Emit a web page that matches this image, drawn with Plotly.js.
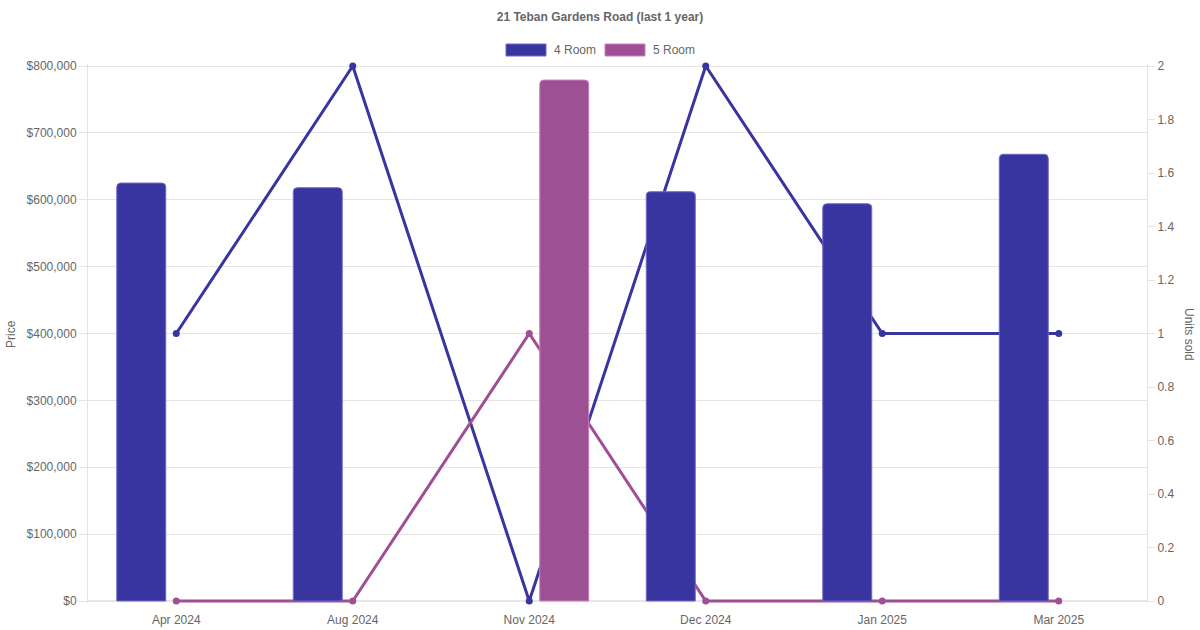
<!DOCTYPE html>
<html>
<head>
<meta charset="utf-8">
<script src="https://cdn.plot.ly/plotly-3.0.1.min.js"></script>
<style>
  html, body { margin: 0; padding: 0; background: #fff; }
  #chart { width: 1200px; height: 630px; }
</style>
</head>
<body>
<div id="chart"></div>
<script>
const months = ['Apr 2024', 'Aug 2024', 'Nov 2024', 'Dec 2024', 'Jan 2025', 'Mar 2025'];
const price4Room = [625000, 618000, null, 612000, 594000, 668000];
const price5Room = [null, null, 779000, null, null, null];
const units4Room = [1, 2, 0, 2, 1, 1];
const units5Room = [0, 0, 1, 0, 0, 0];
const priceTicks = [0, 100000, 200000, 300000, 400000, 500000, 600000, 700000, 800000];
const unitTicks = [0, 0.2, 0.4, 0.6, 0.8, 1, 1.2, 1.4, 1.6, 1.8, 2];

const blue = 'rgb(57,53,160)';
const purple = 'rgb(158,80,148)';
const FONT = 'Liberation Sans, Arial, Helvetica, sans-serif';
const grey = '#666';

// 2px of breathing room so line strokes at 0 and at the top are not clipped
const PADPX = 2, PLOTPX = 535;
const unitPad = 2 / PLOTPX * PADPX;
const pricePad = 800000 / PLOTPX * PADPX;

const traces = [
  {
    type: 'scatter', mode: 'lines+markers', name: '4 Room units',
    x: months, y: units4Room, yaxis: 'y', showlegend: false, cliponaxis: false,
    line: {color: blue, width: 3}, marker: {color: blue, size: 7},
    hoverinfo: 'skip'
  },
  {
    type: 'scatter', mode: 'lines+markers', name: '5 Room units',
    x: months, y: units5Room, yaxis: 'y', showlegend: false, cliponaxis: false,
    line: {color: purple, width: 3}, marker: {color: purple, size: 7},
    hoverinfo: 'skip'
  },
  {
    type: 'bar', name: '4 Room', x: months, y: price4Room, yaxis: 'y2',
    marker: {color: blue, line: {color: 'rgb(110,106,200)', width: 1}, cornerradius: 4},
    showlegend: false
  },
  {
    type: 'bar', name: '5 Room', x: months, y: price5Room, yaxis: 'y2',
    marker: {color: purple, line: {color: 'rgb(200,130,190)', width: 1}, cornerradius: 4},
    showlegend: false
  }
];

const W = 1059;
const H = PLOTPX + 2 * PADPX;
const px = x => (x - 88) / W;
const py = y => (630 - 27 - y) / H;

const layout = {
  width: 1200, height: 630,
  margin: {l: 88, r: 53, t: 64, b: 27, pad: 0},
  paper_bgcolor: '#fff', plot_bgcolor: '#fff',
  font: {family: FONT, size: 12, color: grey},
  showlegend: false,
  barmode: 'group',
  bargap: 0.207,
  bargroupgap: 0.3,
  title: {
    text: '<b>21 Teban Gardens Road (last 1 year)</b>',
    font: {family: FONT, size: 12, color: grey},
    x: 0.5, xanchor: 'center', y: 1 - 17/630, yanchor: 'middle'
  },
  xaxis: {
    type: 'category', range: [-0.5, 5.5],
    showgrid: false, zeroline: false, layer: 'below traces',
    showline: false,
    ticks: '', ticklabelstandoff: 8,
    tickfont: {family: FONT, size: 12, color: grey},
    anchor: 'y', fixedrange: true
  },
  yaxis: {
    side: 'right', range: [-unitPad, 2 + unitPad], layer: 'below traces',
    tickvals: unitTicks, ticktext: unitTicks.map(v => String(v)),
    showgrid: false, zeroline: false,
    showline: true, linecolor: '#e5e5e5', linewidth: 1,
    ticks: 'outside', ticklen: 7, tickcolor: '#e5e5e5',
    tickfont: {family: FONT, size: 12, color: grey},
    anchor: 'x'
  },
  yaxis2: {
    side: 'left', overlaying: 'y', range: [-pricePad, 800000 + pricePad], layer: 'below traces',
    tickvals: priceTicks,
    ticktext: priceTicks.map(v => '$' + v.toLocaleString('en-US')),
    showgrid: true, gridcolor: '#e5e5e5', gridwidth: 1,
    zeroline: false,
    showline: true, linecolor: '#e5e5e5', linewidth: 1,
    ticks: 'outside', ticklen: 8, tickcolor: '#e5e5e5',
    tickfont: {family: FONT, size: 12, color: grey},
    anchor: 'x'
  },
  shapes: [
    {type: 'line', xref: 'paper', yref: 'y2', x0: 0, x1: 1, y0: 0, y1: 0,
     layer: 'below', line: {color: '#d0d0d0', width: 1}},
    {type: 'rect', xref: 'paper', yref: 'paper',
     x0: px(506), x1: px(546), y0: py(56), y1: py(44),
     fillcolor: blue, line: {color: 'rgb(110,106,200)', width: 1}},
    {type: 'rect', xref: 'paper', yref: 'paper',
     x0: px(605), x1: px(645), y0: py(56), y1: py(44),
     fillcolor: purple, line: {color: 'rgb(200,130,190)', width: 1}}
  ],
  annotations: [
    {text: '4 Room', xref: 'paper', yref: 'paper', x: px(552), y: py(50),
     xanchor: 'left', yanchor: 'middle', showarrow: false,
     font: {family: FONT, size: 12, color: grey}},
    {text: '5 Room', xref: 'paper', yref: 'paper', x: px(651), y: py(50),
     xanchor: 'left', yanchor: 'middle', showarrow: false,
     font: {family: FONT, size: 12, color: grey}},
    {text: 'Price', xref: 'paper', yref: 'paper', x: px(11), y: py(334),
     xanchor: 'center', yanchor: 'middle', textangle: -90, showarrow: false,
     font: {family: FONT, size: 12, color: grey}},
    {text: 'Units sold', xref: 'paper', yref: 'paper', x: px(1189), y: py(334),
     xanchor: 'center', yanchor: 'middle', textangle: 90, showarrow: false,
     font: {family: FONT, size: 12, color: grey}}
  ]
};

Plotly.newPlot('chart', traces, layout, {displayModeBar: false, staticPlot: true});
</script>
</body>
</html>
